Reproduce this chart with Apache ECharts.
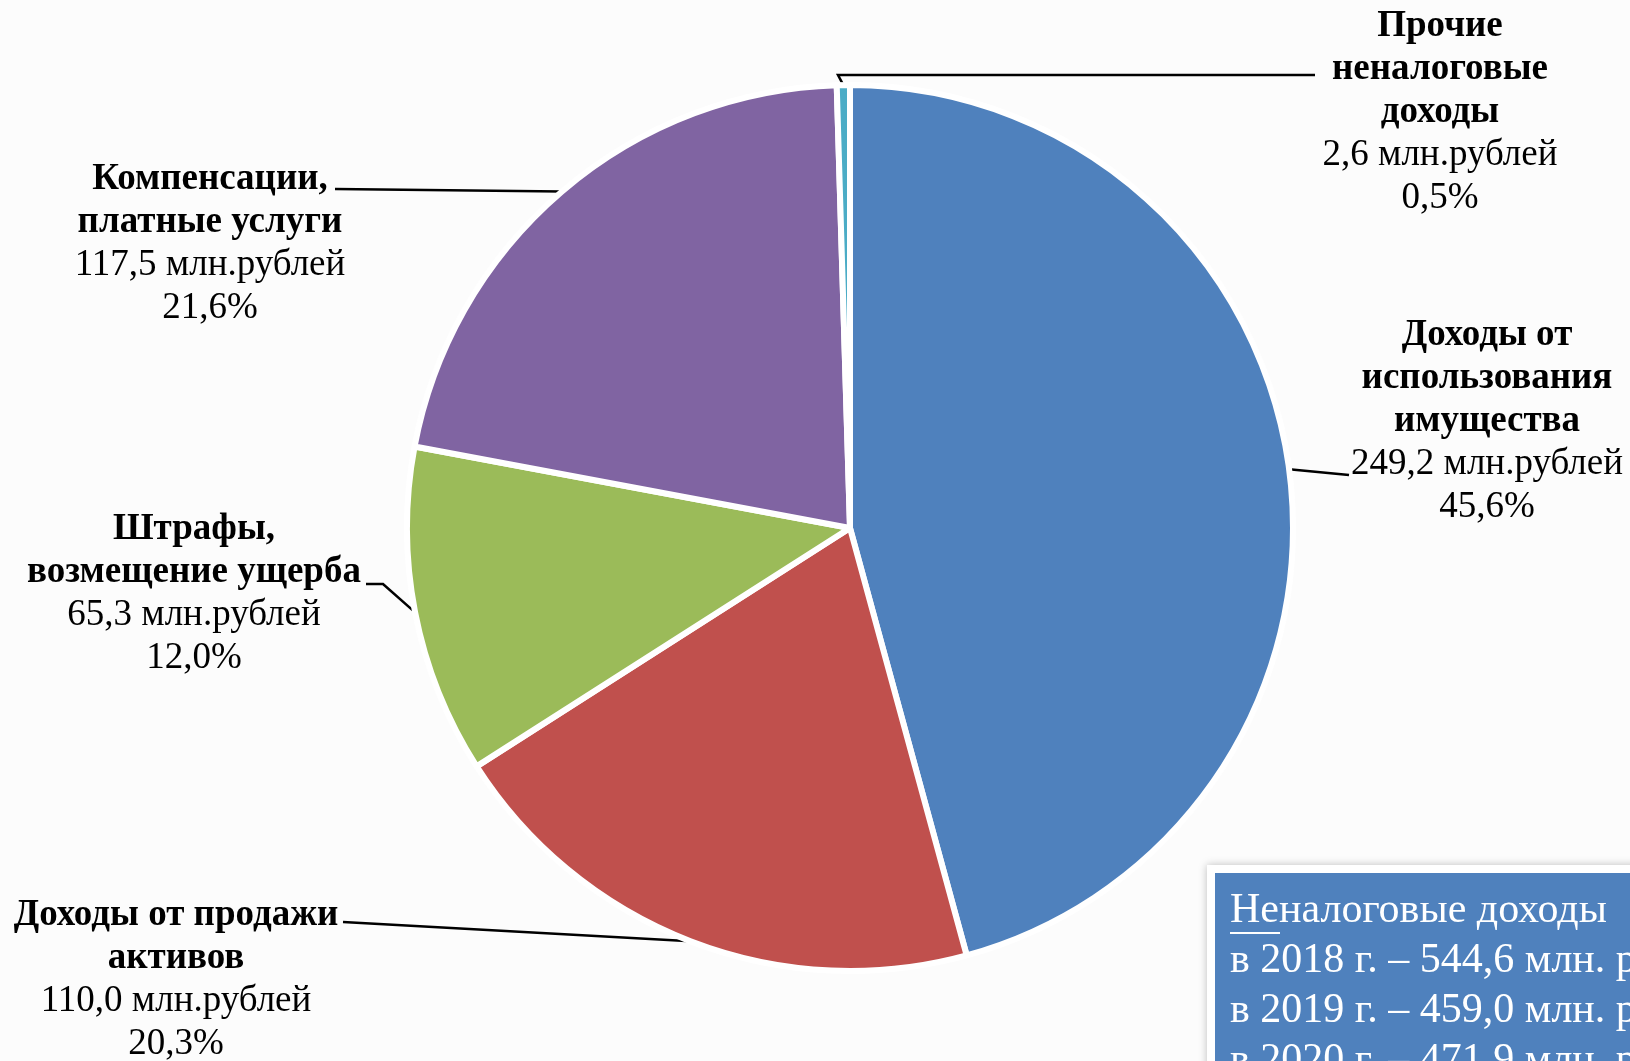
<!DOCTYPE html>
<html>
<head>
<meta charset="utf-8">
<script src="https://cdn.jsdelivr.net/npm/echarts@6/dist/echarts.min.js"></script>
<style>
  html, body { margin: 0; padding: 0; background: #fcfcfc; }
  #main { width: 1630px; height: 1061px; }
</style>
</head>
<body>
<div id="main"></div>
<script>
    // данные: неналоговые доходы, 2018 г.
    const names = [
        'Доходы от\nиспользования\nимущества',
        'Доходы от продажи\nактивов',
        'Штрафы,\nвозмещение ущерба',
        'Компенсации,\nплатные услуги',
        'Прочие\nненалоговые\nдоходы'
    ]
    const values = [249.2, 110.0, 65.3, 117.5, 2.6]
    const percentLabels = ['45,6%', '20,3%', '12,0%', '21,6%', '0,5%']
    const colors = ['#4F81BD', '#C0504D', '#9BBB59', '#8064A2', '#4BACC6']
    const boxLines = [
        'Неналоговые доходы',
        'в 2018 г. – 544,6 млн. рублей',
        'в 2019 г. – 459,0 млн. рублей',
        'в 2020 г. – 471,9 млн. рублей'
    ]

    // раскладка подписей (центр блока) и изломы выносок
    const labelPos = [[1487, 421], [176, 980], [194, 594], [210, 244], [1440, 112]]
    const lineBend = [[1349, 475], [343, 922], [383, 584], [335, 189], [838, 75]]
    const lineEnd = [[1349, 475], [343, 922], [366, 584], [335, 189], [1315, 75]]

    const font = "'Liberation Serif', 'Times New Roman', serif"

    let myChart = echarts.init(document.getElementById('main'))

    let pieData = values.map(function (v, i) {
        return {name: names[i], value: v, itemStyle: {color: colors[i]}}
    })

    let boxText = boxLines.map(function (t, i) {
        return {
            type: 'text',
            left: 1230,
            top: 890 + i * 50,
            style: {text: t, fill: '#fff', font: '42px ' + font}
        }
    })

    let option = {
        backgroundColor: '#fcfcfc',
        animation: false,
        graphic: [
            {
                type: 'rect',
                z: -1,
                shape: {x: 1207, y: 865, width: 500, height: 300},
                style: {fill: '#fff', shadowBlur: 8, shadowColor: 'rgba(0,0,0,0.25)'}
            },
            {
                type: 'rect',
                shape: {x: 1215, y: 873, width: 500, height: 300},
                style: {fill: '#4F81BD'}
            },
            {
                type: 'rect',
                shape: {x: 1230, y: 932, width: 50, height: 2},
                style: {fill: '#fff'},
                z: 10
            }
        ].concat(boxText),
        series: [
            {
                type: 'pie',
                center: [850, 528],
                radius: 443,
                startAngle: 90,
                clockwise: true,
                avoidLabelOverlap: false,
                emphasis: {disabled: true},
                itemStyle: {borderColor: '#fff', borderWidth: 6},
                label: {
                    show: true,
                    position: 'outside',
                    formatter: function (p) {
                        let lines = p.name.split('\n').map(function (s) { return '{b|' + s + '}' })
                        lines.push('{n|' + p.value.toFixed(1).replace('.', ',') + ' млн.рублей}')
                        lines.push('{n|' + percentLabels[p.dataIndex] + '}')
                        return lines.join('\n')
                    },
                    rich: {
                        b: {fontFamily: font, fontSize: 37, fontWeight: 'bold', lineHeight: 43, color: '#000', align: 'center'},
                        n: {fontFamily: font, fontSize: 37, lineHeight: 43, color: '#000', align: 'center'}
                    }
                },
                labelLine: {show: true, lineStyle: {color: '#000', width: 2.5}},
                labelLayout: function (params) {
                    let i = params.dataIndex
                    let res = {
                        x: labelPos[i][0],
                        y: labelPos[i][1],
                        align: 'center',
                        verticalAlign: 'middle'
                    }
                    if (params.labelLinePoints) {
                        let p0 = params.labelLinePoints[0]
                        res.labelLinePoints = [[p0[0], p0[1]], lineBend[i], lineEnd[i]]
                    }
                    return res
                },
                data: pieData
            }
        ]
    }
    myChart.setOption(option)
</script>
</body>
</html>
